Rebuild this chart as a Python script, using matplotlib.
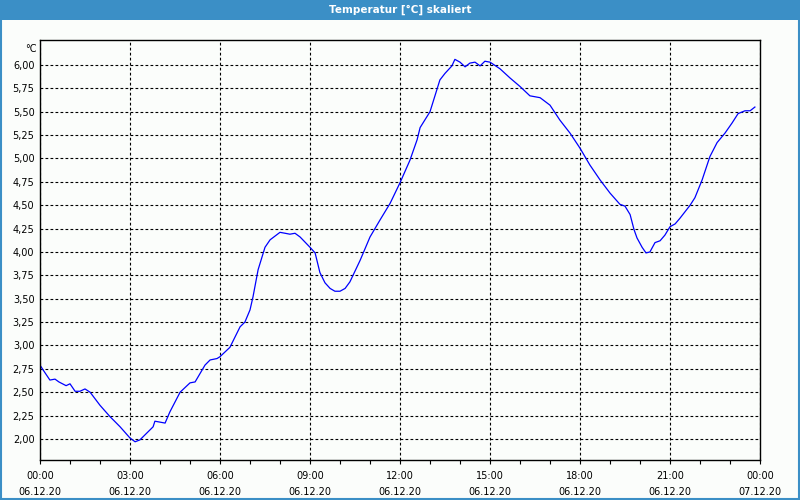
import datetime as dt
import matplotlib
matplotlib.use('Agg')
import matplotlib.pyplot as plt
import matplotlib.dates as mdates
from matplotlib.ticker import FixedLocator, FuncFormatter
from matplotlib.patches import Rectangle

# hours after 06.12.20 00:00 and temperature in degC
hours = [0.00, 0.10, 0.33, 0.50, 0.63, 0.87, 1.00, 1.17, 1.33, 1.50, 1.67, 2.00,
         2.33, 2.67, 3.00, 3.17, 3.33, 3.77, 3.83, 4.00, 4.17, 4.33, 4.67, 5.00,
         5.17, 5.50, 5.67, 5.90, 6.00, 6.33, 6.67, 6.83, 7.00, 7.10, 7.27, 7.50,
         7.67, 8.00, 8.17, 8.33, 8.50, 8.67, 9.00, 9.17, 9.33, 9.50, 9.67, 9.83,
         10.00, 10.17, 10.33, 10.67, 11.00, 11.33, 11.67, 12.00, 12.33, 12.57,
         12.67, 13.00, 13.33, 13.50, 13.73, 13.83, 14.00, 14.17, 14.33, 14.50,
         14.67, 14.83, 15.00, 15.33, 15.67, 16.00, 16.33, 16.67, 17.00, 17.33,
         17.67, 18.00, 18.33, 18.67, 19.00, 19.33, 19.50, 19.67, 19.80, 19.90,
         20.07, 20.20, 20.33, 20.50, 20.67, 20.83, 21.00, 21.17, 21.33, 21.67,
         21.83, 22.07, 22.33, 22.57, 22.83, 23.07, 23.27, 23.50, 23.67, 23.83]
temps = [2.79, 2.74, 2.63, 2.64, 2.61, 2.57, 2.59, 2.51, 2.51, 2.535, 2.50, 2.36,
         2.24, 2.13, 2.01, 1.97, 1.99, 2.13, 2.19, 2.18, 2.17, 2.29, 2.50, 2.60,
         2.61, 2.79, 2.845, 2.86, 2.88, 2.98, 3.20, 3.25, 3.38, 3.52, 3.81, 4.05,
         4.13, 4.21, 4.20, 4.19, 4.20, 4.16, 4.05, 3.99, 3.78, 3.67, 3.61, 3.58,
         3.58, 3.61, 3.68, 3.91, 4.16, 4.34, 4.52, 4.74, 4.98, 5.20,
         5.33, 5.50, 5.84, 5.91, 5.99, 6.06, 6.03, 5.98, 6.02, 6.03,
         5.99, 6.04, 6.03, 5.96, 5.86, 5.77, 5.67, 5.65, 5.57, 5.41,
         5.27, 5.11, 4.93, 4.77, 4.63, 4.51, 4.49, 4.40, 4.24, 4.15,
         4.05, 3.99, 4.00, 4.10, 4.12, 4.18, 4.27, 4.30, 4.36, 4.50,
         4.58, 4.77, 5.02, 5.17, 5.27, 5.38, 5.48, 5.51, 5.51, 5.55]

y_ticks = [2.00, 2.25, 2.50, 2.75, 3.00, 3.25, 3.50, 3.75, 4.00, 4.25,
           4.50, 4.75, 5.00, 5.25, 5.50, 5.75, 6.00]

start = dt.datetime(2020, 12, 6)
times = [start + dt.timedelta(hours=h) for h in hours]

plt.rcParams['font.family'] = ['DejaVu Sans']

fig = plt.figure(figsize=(8, 5), dpi=100)
fig.patch.set_facecolor('#fbfdfb')

# title bar + window frame
fig.patches.append(Rectangle((0, 0.96), 1, 0.04, transform=fig.transFigure,
                             facecolor='#3b8fc6', edgecolor='none', zorder=0))
fig.patches.append(Rectangle((0.001, 0.002), 0.998, 0.997, transform=fig.transFigure,
                             facecolor='none', edgecolor='#3b8fc6', lw=1.5, zorder=0))
fig.text(0.5, 0.98, 'Temperatur [°C] skaliert', ha='center', va='center',
         color='white', fontsize=7.5, fontweight='bold')

ax = fig.add_axes([0.05, 0.08, 0.90, 0.84])
ax.set_facecolor('#fbfdfb')
ax.plot(times, temps, color='#0000ff', lw=0.9)

ax.set_xlim(start, start + dt.timedelta(hours=24))
ax.set_ylim(1.775, 6.267)

ax.xaxis.set_major_locator(mdates.HourLocator(byhour=range(0, 24, 3)))
ax.xaxis.set_minor_locator(mdates.HourLocator())
ax.xaxis.set_major_formatter(mdates.DateFormatter('%H:%M\n%d.%m.%y'))
ax.yaxis.set_major_locator(FixedLocator(y_ticks))
ax.yaxis.set_major_formatter(FuncFormatter(lambda v, p: ('%.2f' % v).replace('.', ',')))

ax.grid(True, which='major', color='black', linestyle=(0, (2.5, 2)), lw=0.8)
ax.tick_params(axis='x', which='major', length=3, width=0.8, labelsize=7, pad=5)
ax.tick_params(axis='x', which='minor', length=3, width=0.8)
ax.tick_params(axis='y', length=0, labelsize=7, pad=4)
for lab in ax.get_xticklabels():
    lab.set_linespacing(1.75)
for s in ax.spines.values():
    s.set_linewidth(1.0)

ax.text(-0.004, 0.99, '°C', transform=ax.transAxes, ha='right', va='top', fontsize=7)

fig.savefig('out.png', dpi=100, facecolor=fig.get_facecolor())
